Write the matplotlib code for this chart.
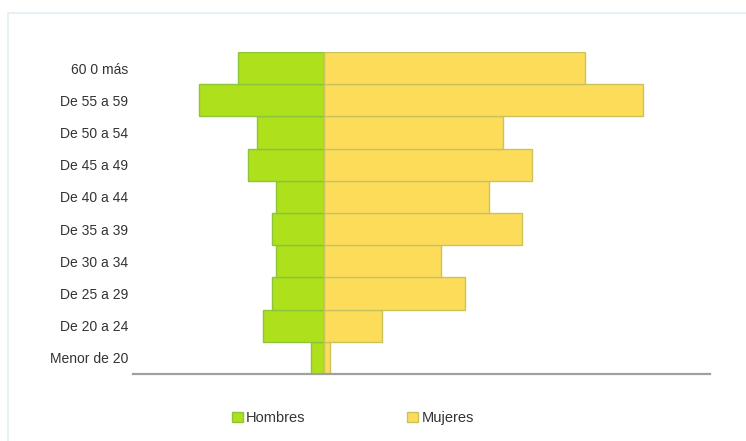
import matplotlib.pyplot as plt
import numpy as np
from matplotlib.patches import Patch, Rectangle

# ── Data: population pyramid by age group ─────────────────────────────────────
grupos = ["Menor de 20", "De 20 a 24", "De 25 a 29", "De 30 a 34", "De 35 a 39",
          "De 40 a 44", "De 45 a 49", "De 50 a 54", "De 55 a 59", "60 0 más"]
hombres = [13, 61, 52, 48, 52, 48, 76, 67, 125, 86]
mujeres = [6, 58, 141, 117, 198, 165, 208, 179, 319, 261]

verde, verde_borde = "#aee01c", "#8cc43a"
amarillo, amarillo_borde = "#fddc5a", "#c8c35a"

fig = plt.figure(figsize=(7.46, 4.41), dpi=100)
fig.patch.set_facecolor("white")

# light panel frame
fig.add_artist(Rectangle((8 / 746, -0.01), 1.0, 1 - 13 / 441 + 0.01,
                         transform=fig.transFigure, facecolor="white",
                         edgecolor="#e3eef2", linewidth=1.2, zorder=0))

ax = fig.add_axes([133 / 746, 1 - 374 / 441, (710 - 133) / 746, (374 - 52) / 441])
ax.set_facecolor("none")

y = np.arange(len(grupos))
ax.barh(y, [-h for h in hombres], height=1.0, color=verde,
        edgecolor=verde_borde, linewidth=1.0, label="Hombres")
ax.barh(y, mujeres, height=1.0, color=amarillo,
        edgecolor=amarillo_borde, linewidth=1.0, label="Mujeres")

ax.set_xlim(-191, 386)
ax.set_ylim(-0.5, len(grupos) - 0.5)
ax.set_yticks(y)
ax.set_yticklabels(grupos, fontsize=10, color="#333333", family="Liberation Sans")
ax.tick_params(axis="y", length=0, pad=3.5)
ax.set_xticks([])

for side in ["top", "right", "left"]:
    ax.spines[side].set_visible(False)
ax.spines["bottom"].set_color("#a0a0a0")
ax.spines["bottom"].set_linewidth(1.6)

handles = [Patch(facecolor=verde, edgecolor=verde_borde, label="Hombres"),
           Patch(facecolor=amarillo, edgecolor=amarillo_borde, label="Mujeres")]
fig.legend(handles=handles, loc="center left", bbox_to_anchor=(232 / 746, 1 - 418 / 441),
           ncol=2, frameon=False, prop={"family": "Liberation Sans", "size": 10.5},
           labelcolor="#333333",
           handlelength=0.75, handleheight=0.75, handletextpad=0.2,
           columnspacing=7.0, borderaxespad=0, borderpad=0)

fig.savefig("out.png", dpi=100)
